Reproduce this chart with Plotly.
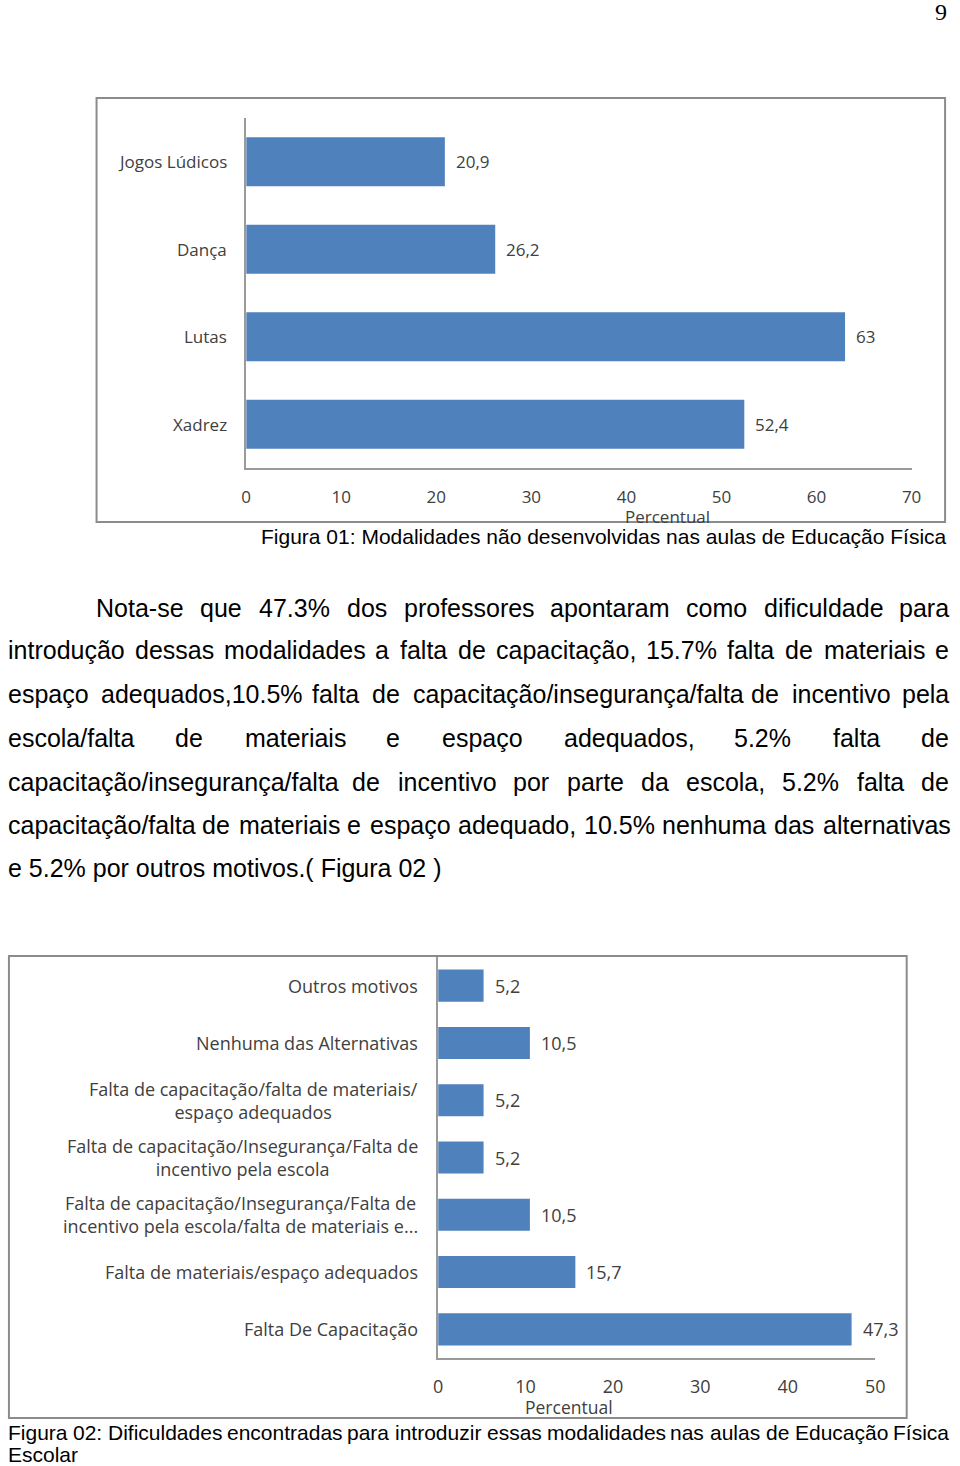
import plotly.graph_objects as go

W, H = 960, 1466

# Figura 01
modalidades = ["Jogos Lúdicos", "Dança", "Lutas", "Xadrez"]
pct_modalidades = [20.9, 26.2, 63, 52.4]
ticks_fig1 = [0, 10, 20, 30, 40, 50, 60, 70]

# Figura 02
dificuldades = [
    "Outros motivos",
    "Nenhuma das Alternativas",
    "Falta de capacitação/falta de materiais/<br>espaço adequados",
    "Falta de capacitação/Insegurança/Falta de<br>incentivo pela escola",
    "Falta de capacitação/Insegurança/Falta de<br>incentivo pela escola/falta de materiais e...",
    "Falta de materiais/espaço adequados",
    "Falta De Capacitação",
]
pct_dificuldades = [5.2, 10.5, 5.2, 5.2, 10.5, 15.7, 47.3]
ticks_fig2 = [0, 10, 20, 30, 40, 50]

texto = [
    "Nota-se que 47.3% dos professores apontaram como dificuldade para",
    "introdução dessas modalidades a falta de capacitação, 15.7% falta de materiais e",
    "espaço adequados,10.5% falta de capacitação/insegurança/falta de incentivo pela",
    "escola/falta de materiais e espaço adequados, 5.2% falta de",
    "capacitação/insegurança/falta de incentivo por parte da escola, 5.2% falta de",
    "capacitação/falta de materiais e espaço adequado, 10.5% nenhuma das alternativas",
    "e 5.2% por outros motivos.( Figura 02 )",
]
legenda1 = "Figura 01: Modalidades não desenvolvidas nas aulas de Educação Física"
legenda2 = ["Figura 02: Dificuldades encontradas para introduzir essas modalidades nas aulas de Educação Física",
            "Escolar"]

BLUE = "#4F81BD"
GREY_TXT = "#404040"
AXIS = "#9a9a9a"
FRAME = "#8c8c8c"
CHART_FONT = "Open Sans"
TEXT_FONT = "Liberation Sans, Arial"

# Arial advance widths (1/1000 em), used to justify the body text like the word processor does
ARIAL = {" ": 278, "%": 889, "(": 333, ")": 333, ",": 278, "-": 333, ".": 278, "/": 278, ":": 278,
         "A": 667, "D": 722, "E": 667, "F": 611, "N": 722,
         "a": 556, "b": 556, "c": 500, "d": 556, "e": 556, "f": 278, "g": 556, "h": 556, "i": 222,
         "j": 222, "k": 500, "l": 222, "m": 833, "n": 556, "o": 556, "p": 556, "q": 556, "r": 333,
         "s": 500, "t": 278, "u": 556, "v": 500, "w": 722, "x": 500, "y": 500, "z": 500,
         "ã": 556, "ç": 500, "á": 556, "é": 556, "í": 278, "ó": 556, "ú": 556}


def text_width(s, size):
    return sum(ARIAL.get(ch, 556) for ch in s) * size / 1000


def px(x):
    return x / W


def py(y):
    return 1 - y / H


def fmt(v):
    return f"{v:g}".replace(".", ",")


def justified(line, left, right, y, size, ann):
    words = line.split(" ")
    used = sum(text_width(w, size) for w in words)
    gap = (right - left - used) / (len(words) - 1)
    x = left
    for w in words:
        ann.append(dict(x=px(x), y=py(y), xref="paper", yref="paper", text=w,
                        showarrow=False, xanchor="left", yanchor="middle", borderpad=0,
                        font=dict(family=TEXT_FONT, size=size, color="black")))
        x += text_width(w, size) + gap


fig = go.Figure()

fig.add_trace(go.Bar(x=pct_modalidades, y=modalidades, orientation="h",
                     marker=dict(color=BLUE, line=dict(width=0)), width=0.56,
                     xaxis="x", yaxis="y", hoverinfo="x+y"))
fig.add_trace(go.Bar(x=pct_dificuldades, y=dificuldades, orientation="h",
                     marker=dict(color=BLUE, line=dict(width=0)), width=0.56,
                     xaxis="x2", yaxis="y2", hoverinfo="x+y"))

ann = []

# data labels and category labels
for cats, vals, xr, yr, lab_x, fs in [(modalidades, pct_modalidades, "x", "y", 227, 17),
                                       (dificuldades, pct_dificuldades, "x2", "y2", 421, 18)]:
    for c, v in zip(cats, vals):
        ann.append(dict(x=v, y=c, xref=xr, yref=yr, text=fmt(v), showarrow=False,
                        xanchor="left", xshift=10, borderpad=0,
                        font=dict(family=CHART_FONT, size=fs, color=GREY_TXT)))
        ann.append(dict(x=px(lab_x), y=c, xref="paper", yref=yr, text=c, showarrow=False,
                        xanchor="right", align="center", borderpad=0,
                        font=dict(family=CHART_FONT, size=fs, color=GREY_TXT)))

# axis titles
for x, y, fs in [(673, 516, 17), (573, 1407, 17.5)]:
    ann.append(dict(x=px(x), y=py(y), xref="paper", yref="paper", text="Percentual",
                    showarrow=False, xanchor="center", yanchor="middle", borderpad=0,
                    font=dict(family=CHART_FONT, size=fs, color=GREY_TXT)))

# paragraph: justified lines, indent on the first, last line flush left
line_y = [608, 650, 694, 738, 782, 825, 868]
for i, (line, y) in enumerate(zip(texto, line_y)):
    if i == len(texto) - 1:
        ann.append(dict(x=px(2.5), y=py(y), xref="paper", yref="paper", text=line,
                        showarrow=False, xanchor="left", yanchor="middle", borderpad=0,
                        font=dict(family=TEXT_FONT, size=25, color="black")))
    else:
        justified(line, 91.5 if i == 0 else 2.5, 957.5, y, 25, ann)

# captions
ann.append(dict(x=px(957.5), y=py(536), xref="paper", yref="paper", text=legenda1,
                showarrow=False, xanchor="right", yanchor="middle", borderpad=0,
                font=dict(family=TEXT_FONT, size=21, color="black")))
justified(legenda2[0], 2.5, 957.5, 1432, 21, ann)
ann.append(dict(x=px(2.5), y=py(1454), xref="paper", yref="paper", text=legenda2[1],
                showarrow=False, xanchor="left", yanchor="middle", borderpad=0,
                font=dict(family=TEXT_FONT, size=21, color="black")))

# page number
ann.append(dict(x=px(951), y=py(12), xref="paper", yref="paper", text="9",
                showarrow=False, xanchor="center", yanchor="middle", borderpad=0,
                font=dict(family="Liberation Serif, Times New Roman", size=24, color="black")))

shapes = [
    dict(type="rect", xref="paper", yref="paper", x0=px(93), x1=px(955), y0=py(522), y1=py(98),
         line=dict(color=FRAME, width=2), layer="below"),
    dict(type="rect", xref="paper", yref="paper", x0=px(4), x1=px(916), y0=py(1418), y1=py(956),
         line=dict(color=FRAME, width=2), layer="below"),
]

xcommon = dict(showgrid=False, zeroline=False, showline=True, linecolor=AXIS, linewidth=1.5,
               ticks="outside", tickcolor="rgba(0,0,0,0)", fixedrange=True)
ycommon = dict(type="category", autorange="reversed", showgrid=False, zeroline=False,
               showline=True, linecolor=AXIS, linewidth=1.5, showticklabels=False,
               ticks="", fixedrange=True)

fig.update_layout(
    width=W, height=H, margin=dict(l=0, r=0, t=0, b=0),
    paper_bgcolor="white", plot_bgcolor="white", showlegend=False,
    xaxis=dict(domain=[px(245), px(921)], range=[0, 70], tickvals=ticks_fig1, anchor="y", ticklen=13,
               tickfont=dict(family=CHART_FONT, size=17, color=GREY_TXT), **xcommon),
    yaxis=dict(domain=[py(468), py(118)], anchor="x", **ycommon),
    xaxis2=dict(domain=[px(440), px(884)], range=[0, 50], tickvals=ticks_fig2, anchor="y2", ticklen=12,
                tickfont=dict(family=CHART_FONT, size=18, color=GREY_TXT), **xcommon),
    yaxis2=dict(domain=[py(1358), py(957)], anchor="x2", **ycommon),
    annotations=ann, shapes=shapes,
)

# the page keeps the browser's default body margin and shows scrollbars; remove both
# so the 960x1466 figure fills the window exactly
fig.write_html(
    "out.html",
    config={"displayModeBar": False},
    post_script="document.body.style.margin = '0';"
                "document.body.style.overflow = 'hidden';"
                "document.documentElement.style.overflow = 'hidden';",
)
